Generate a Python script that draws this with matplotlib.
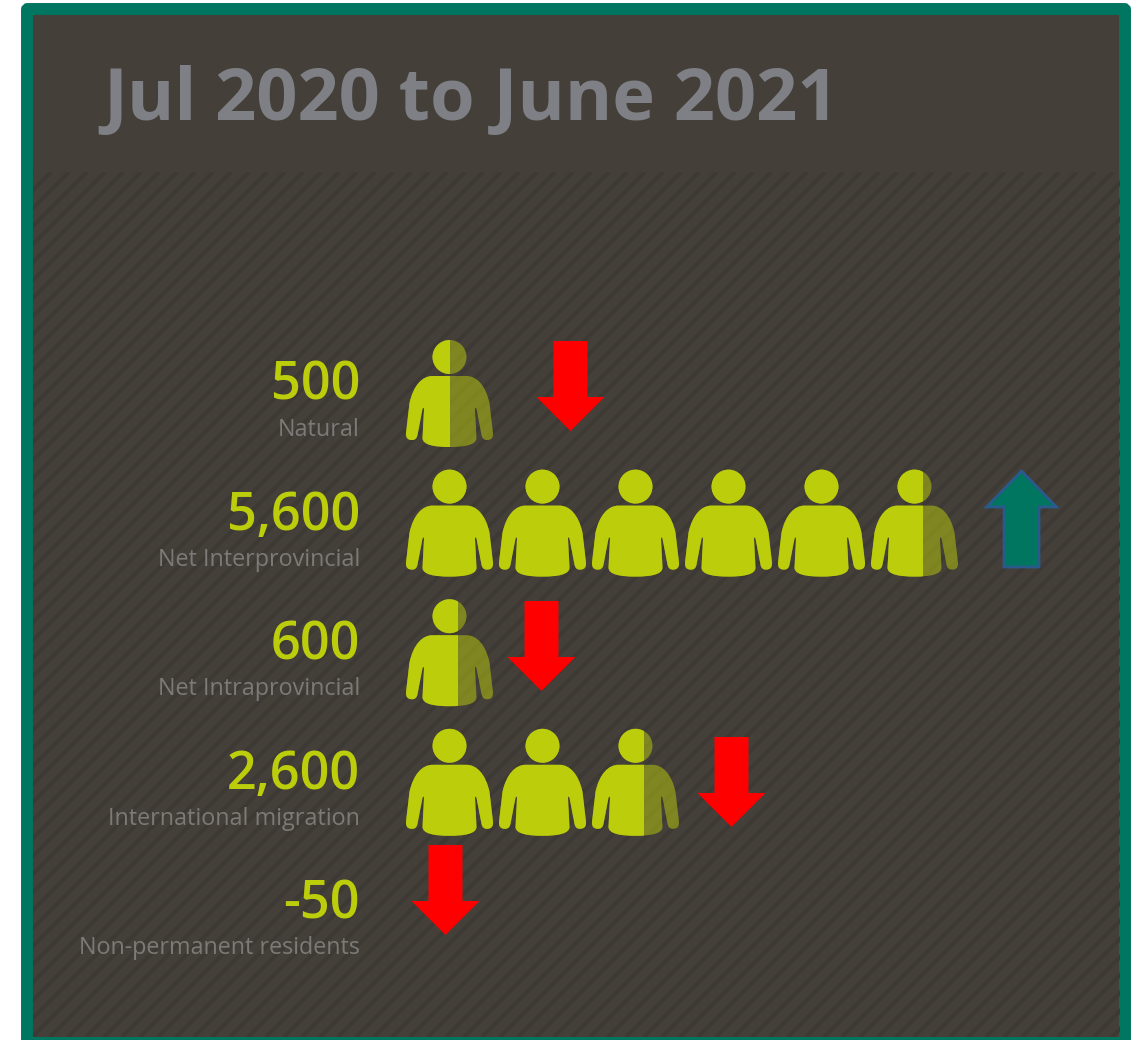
import matplotlib
matplotlib.use("Agg")
import matplotlib.pyplot as plt
import numpy as np
from matplotlib.collections import LineCollection
from matplotlib.patches import FancyBboxPatch, PathPatch, Polygon, Rectangle, Circle
from matplotlib.path import Path
from matplotlib.transforms import Affine2D

# Population change by component
title = "Jul 2020 to June 2021"
categories = ["Natural", "Net Interprovincial", "Net Intraprovincial",
              "International migration", "Non-permanent residents"]
values = [500, 5600, 600, 2600, -50]
value_labels = ["500", "5,600", "600", "2,600", "-50"]
directions = ["down", "up", "down", "down", "down"]

PER_ICON = 1000

# Layout, in pixels from the top-left corner
ROW_TOP = 340.0
ROW_STEP = 129.6
ICON_LEFT = 406.0
ICON_PITCH = 93.0
ICON_WIDTH = 87.0
arrow_x = [570.5, 1021.5, 541.5, 731.5, 445.5]
arrow_top = [341, 471, 601, 737, 845]

FRAME = "#00755f"
PANEL = "#443f39"
STRIPE = "#3d3934"
LIME = "#bccd0c"
GREY = "#7e8085"
LABEL = "#7c7a77"

plt.rcParams["font.family"] = ["Open Sans", "DejaVu Sans"]

fig = plt.figure(figsize=(11.4, 10.4), dpi=100, facecolor="white")
ax = fig.add_axes([0, 0, 1, 1])
ax.set_xlim(0, 1140)
ax.set_ylim(1040, 0)
ax.axis("off")

# Rounded frame and panel
ax.add_patch(FancyBboxPatch((27, 9), 1098, 1040, boxstyle="round,pad=0,rounding_size=1",
                            fc=PANEL, ec=FRAME, lw=8.6, zorder=1))

# Diagonal stripes on the lower part of the panel
region = Rectangle((33, 172), 1087, 865, transform=ax.transData)
offsets = np.arange(33, 2100, 18.0)
segments = [[(x, 172), (x - 865, 1037)] for x in offsets]
stripes = LineCollection(segments, colors=STRIPE, linewidths=3.0, zorder=2)
ax.add_collection(stripes)
stripes.set_clip_path(region)
ax.add_patch(Rectangle((33, 1037), 1087, 3, fc=FRAME, ec="none", zorder=3))


def person_path():
    """Body outline centred on u=0, measured down from the top of the head."""
    right = [
        (Path.MOVETO, (0, 36)),
        (Path.LINETO, (17, 36)),
        (Path.CURVE4, (27, 36)), (Path.CURVE4, (36, 45)), (Path.CURVE4, (40, 63)),
        (Path.LINETO, (43.5, 93)),
        (Path.CURVE3, (44, 100)), (Path.CURVE3, (38, 100)),
        (Path.CURVE3, (33, 100.5)), (Path.CURVE3, (32, 95)),
        (Path.LINETO, (27, 69)),
        (Path.CURVE3, (26, 66)), (Path.CURVE3, (25.5, 69)),
        (Path.LINETO, (27, 98)),
        (Path.CURVE4, (27, 105)), (Path.CURVE4, (15, 107)), (Path.CURVE4, (0, 107)),
    ]
    codes = [c for c, _ in right]
    pts = [p for _, p in right]
    # Mirror the right side to close the outline
    mirror_pts = [(-u, v) for u, v in pts[-2::-1]]
    mirror_codes = list(reversed(codes[1:]))
    return Path(pts + mirror_pts + [(0, 36)],
                codes + mirror_codes + [Path.CLOSEPOLY])


BODY = person_path()


def draw_person(left, top, fraction):
    """One icon: a faded full figure, with the filled share painted over it."""
    cx = left + ICON_WIDTH / 2
    clip = Rectangle((left - 2, top - 2), ICON_WIDTH * fraction + 2, 112,
                     transform=ax.transData)
    if fraction >= 1:
        clip.set_width(ICON_WIDTH + 4)
    for alpha, clipped in ((0.5, False), (1.0, True)):
        body = PathPatch(BODY.transformed(Affine2D().translate(cx, top)),
                         fc=LIME, ec="none", alpha=alpha, zorder=4 + clipped)
        head = Circle((cx, top + 17), 17, fc=LIME, ec="none", alpha=alpha, zorder=4 + clipped)
        ax.add_patch(body)
        ax.add_patch(head)
        if clipped:
            body.set_clip_path(clip)
            head.set_clip_path(clip)


def draw_arrow(cx, top, direction):
    if direction == "down":
        shaft, head, length, neck = 17, 34, 90, 56
        pts = [(cx - shaft, top), (cx + shaft, top), (cx + shaft, top + neck),
               (cx + head, top + neck), (cx, top + length), (cx - head, top + neck),
               (cx - shaft, top + neck)]
        ax.add_patch(Polygon(pts, closed=True, fc="#ff0000", ec="none", zorder=6))
    else:
        shaft, head, length, neck = 17.5, 35, 96, 36
        pts = [(cx - shaft, top + length), (cx + shaft, top + length), (cx + shaft, top + neck),
               (cx + head, top + neck), (cx, top), (cx - head, top + neck),
               (cx - shaft, top + neck)]
        ax.add_patch(Polygon(pts, closed=True, fc=FRAME, ec="#2a5a8c", lw=2.0,
                             joinstyle="miter", zorder=6))


ax.text(103, 120, title, fontsize=52, fontweight="bold", color=GREY,
        va="baseline", ha="left", zorder=7)

for i, (name, value, text) in enumerate(zip(categories, values, value_labels)):
    top = ROW_TOP + i * ROW_STEP
    ax.text(360, top + 60, text, fontsize=37.6, fontweight="semibold", color=LIME,
            ha="right", va="baseline", zorder=7)
    ax.text(360, top + 96, name, fontsize=16.8, color=LABEL, ha="right", va="baseline", zorder=7)

    remaining = max(value, 0) / PER_ICON
    n = 0
    while remaining > 1e-9:
        draw_person(ICON_LEFT + n * ICON_PITCH, top, min(remaining, 1.0))
        remaining -= 1.0
        n += 1

    draw_arrow(arrow_x[i], arrow_top[i], directions[i])

fig.savefig("out.png", dpi=100, facecolor="white")
